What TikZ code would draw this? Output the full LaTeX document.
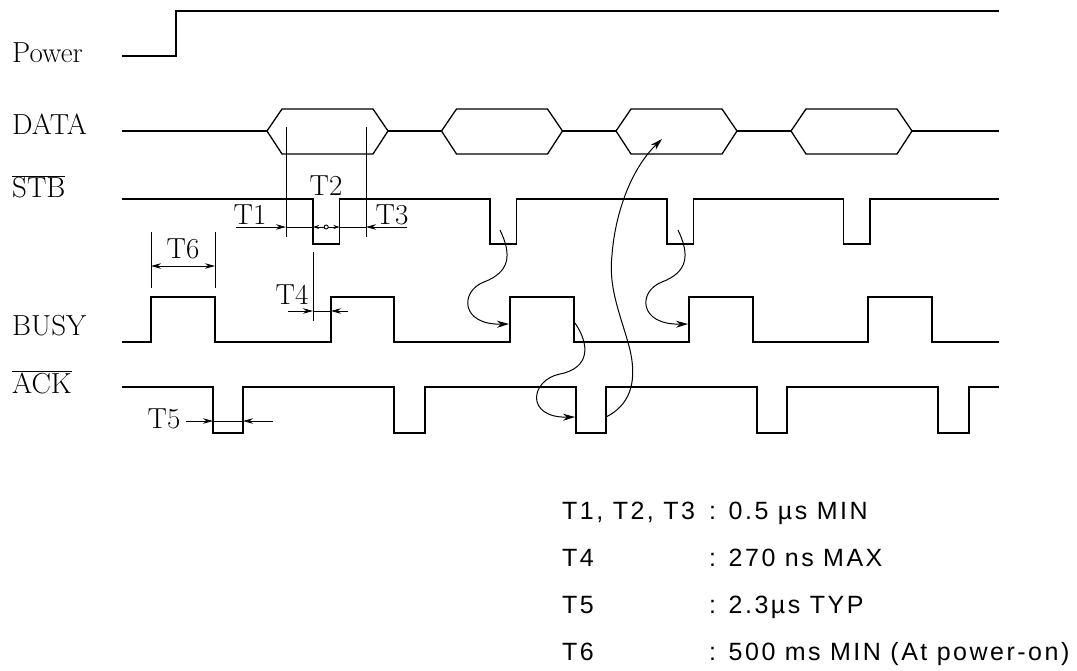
\documentclass[tikz,border=0pt]{standalone}
\usepackage{fontspec}
\newfontfamily\specfont[LetterSpace=10]{Liberation Sans}
\usetikzlibrary{arrows.meta}

\tikzset{
  wave/.style={line width=1.3pt, line join=miter},
  guide/.style={line width=0.9pt},
  dim/.style={line width=0.9pt, ->},
  flow/.style={line width=1pt, -{Stealth[length=12pt,width=7pt]}},
  sig/.style={font=\fontsize{29}{33}\selectfont, anchor=base west, inner sep=0pt},
  tlabel/.style={font=\fontsize{29}{33}\selectfont, inner sep=0pt},
  spec/.style={font=\specfont\fontsize{25}{29}\selectfont, anchor=base west, inner sep=0pt}
}

\begin{document}
\begin{tikzpicture}[x=1pt, y=-1pt, >={Stealth[length=10pt,width=5.5pt]}]
  \useasboundingbox (0,0) rectangle (1077,671);

  % signal names
  \node[sig] (power) at (12,63) {Power};
  \node[sig] (data) at (12,135) {DATA};
  \node[sig] (stb) at (12,198) {$\overline{\hbox{STB}}$};
  \node[sig] (busy) at (12,335) {BUSY};
  \node[sig] (ack) at (12,393) {$\overline{\hbox{ACK}}$};

  % waveforms
  \draw[wave] (122,56) -- (176,56) -- (176,11) -- (999,11);

  \draw[wave] (122,131) -- (267,131);
  \foreach \s/\n in {267/441.5, 441.5/616, 616/791, 791/999}{
    \draw[wave] (\s,131) -- (\s+15,109) -- (\s+106,109) -- (\s+121,131) -- (\s+106,154) -- (\s+15,154) -- cycle;
    \draw[wave] (\s+121,131) -- (\n,131);
  }

  \draw[wave] (122,199) -- (313,199) -- (313,244) -- (339.5,244) -- (339.5,199)
    -- (490,199) -- (490,244) -- (516.5,244) -- (516.5,199)
    -- (667,199) -- (667,244) -- (693.5,244) -- (693.5,199)
    -- (843.5,199) -- (843.5,244) -- (870,244) -- (870,199) -- (999,199);

  \draw[wave] (122,342) -- (151,342) -- (151,297) -- (215,297) -- (215,342)
    -- (331,342) -- (331,297) -- (394,297) -- (394,342)
    -- (510,342) -- (510,297) -- (574,297) -- (574,342)
    -- (689,342) -- (689,297) -- (753,297) -- (753,342)
    -- (868,342) -- (868,297) -- (932,297) -- (932,342) -- (999,342);

  \draw[wave] (122,387) -- (213,387) -- (213,433) -- (243,433) -- (243,387)
    -- (394,387) -- (394,433) -- (425,433) -- (425,387)
    -- (576,387) -- (576,433) -- (606,433) -- (606,387)
    -- (757,387) -- (757,433) -- (787,433) -- (787,387)
    -- (938,387) -- (938,433) -- (969,433) -- (969,387) -- (999,387);

  % T1, T2, T3
  \draw[guide] (286,127) -- (286,237);
  \draw[guide] (366,127) -- (366,237);
  \draw[dim] (236,227) -- (286,227);
  \draw[dim] (407,227) -- (366,227);
  \draw[guide] (286,227) -- (313,227) (339.5,227) -- (366,227);
  \draw[guide, {Stealth[length=6pt,width=4pt]}-{Stealth[length=6pt,width=4pt]}] (313,227) -- (339.5,227);
  \draw[guide, fill=white] (326.2,227) circle (2);
  \node[tlabel] (t1) at (250,215) {T1};
  \node[tlabel] (t2) at (326,186) {T2};
  \node[tlabel] (t3) at (392,215) {T3};

  % T6
  \draw[guide] (151,232) -- (151,288);
  \draw[guide] (215,232) -- (215,288);
  \draw[guide, <->] (151,266) -- (215,266);
  \node[tlabel] (t6) at (183,249) {T6};

  % T4
  \draw[guide] (313,252) -- (313,321);
  \draw[dim] (288,311) -- (313,311);
  \draw[guide] (313,311) -- (331,311);
  \draw[dim] (348,311) -- (331,311);
  \node[tlabel] (t4) at (292,295) {T4};

  % T5
  \draw[dim] (186,421) -- (213,421);
  \draw[guide] (213,421) -- (243,421);
  \draw[dim] (273,421) -- (243,421);
  \node[tlabel] (t5) at (164,419) {T5};

  % handshake arrows
  \coordinate (stbA) at (500,230);
  \coordinate (busyA) at (509,324);
  \coordinate (stbB) at (678,230);
  \coordinate (busyB) at (688,324);
  \coordinate (busyC) at (575,323);
  \coordinate (ackC) at (575,417);
  \coordinate (ackD) at (606,417);
  \coordinate (dataD) at (662,139);

  \draw[flow] (stbA) .. controls (512,255) and (510,272) .. (484,282)
    .. controls (460,291) and (460,325) .. (busyA);
  \draw[flow] (stbB) .. controls (690,255) and (688,272) .. (662,282)
    .. controls (638,291) and (638,325) .. (busyB);
  \draw[flow] (busyC) .. controls (590,345) and (590,368) .. (560,374)
    .. controls (530,380) and (525,418) .. (ackC);
  \draw[flow] (ackD) .. controls (628,406) and (638,385) .. (630,350)
    .. controls (622,318) and (608,290) .. (612,255)
    .. controls (615,215) and (630,170) .. (dataD);

  % timing values
  \node[spec] (k1) at (562,519) {T1, T2, T3};
  \node[spec] (v1) at (709,519) {: 0.5 µs MIN};
  \node[spec] (k4) at (562,566) {T4};
  \node[spec] (v4) at (709,566) {: 270 ns MAX};
  \node[spec] (k5) at (562,613) {T5};
  \node[spec] (v5) at (709,613) {: 2.3µs TYP};
  \node[spec] (k6) at (562,660) {T6};
  \node[spec] (v6) at (709,660) {: 500 ms MIN (At power-on)};
\end{tikzpicture}
\end{document}
